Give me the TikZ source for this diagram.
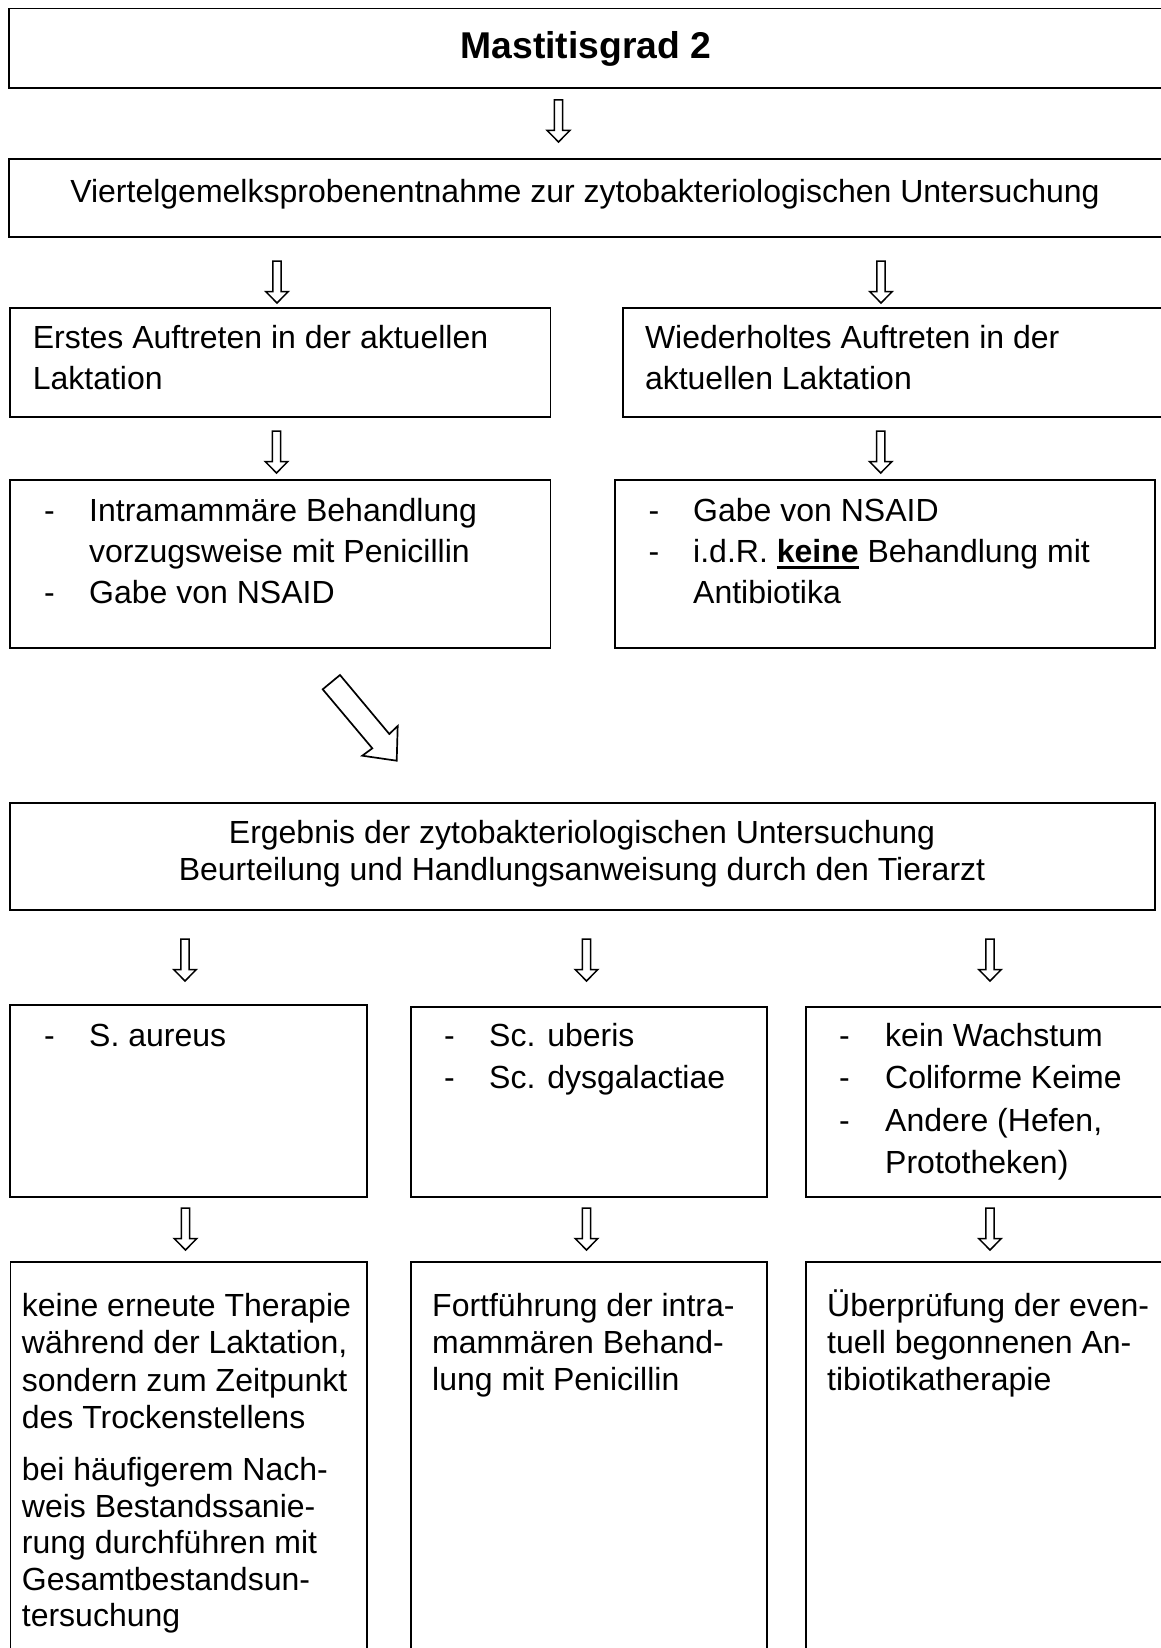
\documentclass[tikz,border=0pt]{standalone}
\usepackage{fontspec}
\setmainfont{Liberation Sans}
\newcommand\bodyfont{\fontsize{32}{37}\selectfont}
\newcommand\titlefont{\fontsize{37.3}{42}\selectfont\bfseries}
\newcommand\ulbold[1]{\setbox0\hbox{\bfseries #1}\rlap{\rule[-6.5pt]{\wd0}{3pt}}\box0\relax}
\tikzset{
  box/.style={draw, line width=1.8pt, inner sep=0pt, outer sep=0pt, anchor=north west},
  txt/.style={anchor=base west, inner sep=0pt, font=\bodyfont},
  ctxt/.style={anchor=base, inner sep=0pt, font=\bodyfont},
  downarrow/.pic={\draw[line width=1.5pt, line join=miter, fill=white]
     (-4.2,0) -- (-4.2,30.5) -- (-11.3,30.5) -- (0,42) -- (11.3,30.5) -- (4.2,30.5) -- (4.2,0) -- cycle;},
  blockarrow/.style={draw, line width=1.7pt, line join=miter, fill=white}
}
\begin{document}
\begin{tikzpicture}[x=1pt,y=-1pt]
\useasboundingbox (0,0) rectangle (1161,1648);
\clip (0,0) rectangle (1161,1648);

% boxes
\node[box, minimum width=1156pt, minimum height=79.5pt] (b1) at (9,8.5) {};
\node[box, minimum width=1156pt, minimum height=78pt] (b2) at (9,159) {};
\node[box, minimum width=540.2pt, minimum height=109pt] (b3l) at (10.3,308) {};
\node[box, minimum width=542pt, minimum height=109pt] (b3r) at (623.3,308) {};
\node[box, minimum width=540.2pt, minimum height=168pt] (b4l) at (10.3,480) {};
\node[box, minimum width=540pt, minimum height=168pt] (b4r) at (615,480) {};
\node[box, minimum width=1145.4pt, minimum height=107pt] (b5) at (9.6,803) {};
\node[box, minimum width=357.1pt, minimum height=192pt] (b6l) at (9.6,1005) {};
\node[box, minimum width=356pt, minimum height=190pt] (b6m) at (411,1007) {};
\node[box, minimum width=359pt, minimum height=190pt] (b6r) at (806,1007) {};
\node[box, minimum width=356.2pt, minimum height=420pt] (b7l) at (10.5,1261.7) {};
\node[box, minimum width=356pt, minimum height=420pt] (b7m) at (411,1261.7) {};
\node[box, minimum width=359pt, minimum height=420pt] (b7r) at (806,1261.7) {};

% arrows
\pic at (558.5,100) {downarrow};
\pic at (277,261) {downarrow};
\pic at (881,261) {downarrow};
\pic at (276.5,431) {downarrow};
\pic at (880.7,431) {downarrow};
\pic at (185,939) {downarrow};
\pic at (586.5,939) {downarrow};
\pic at (990,939) {downarrow};
\pic at (185.5,1208) {downarrow};
\pic at (586.5,1208) {downarrow};
\pic at (990,1208) {downarrow};

% diagonal block arrow
\draw[blockarrow] (322.7,689.3) -- (372.3,748.3) -- (362.3,755.7) -- (396.7,760.7)
   -- (397.7,726) -- (389.3,734) -- (340,675) -- cycle;

% texts
\node[ctxt, font=\titlefont] (t1) at (586,59) {Mastitisgrad 2};
\node[ctxt] (t2) at (585,203) {Viertelgemelksprobenentnahme zur zytobakteriologischen Untersuchung};

\node[txt] (t3la) at (32.6,348) {Erstes Auftreten in der aktuellen};
\node[txt] (t3lb) at (32.6,389) {Laktation};
\node[txt] (t3ra) at (644.8,348) {Wiederholtes Auftreten in der};
\node[txt] (t3rb) at (644.8,389) {aktuellen Laktation};

\node[txt] (d4la) at (44,521) {-};
\node[txt] (t4la) at (89,521) {Intramammäre Behandlung};
\node[txt] (t4lb) at (89,562) {vorzugsweise mit Penicillin};
\node[txt] (d4lc) at (44,603) {-};
\node[txt] (t4lc) at (89,603) {Gabe von NSAID};

\node[txt] (d4ra) at (648.5,521) {-};
\node[txt] (t4ra) at (693,521) {Gabe von NSAID};
\node[txt] (d4rb) at (648.5,562) {-};
\node[txt] (t4rb) at (693,562) {i.d.R. \ulbold{keine} Behandlung mit};
\node[txt] (t4rc) at (693,603) {Antibiotika};

\node[ctxt] (t5a) at (582,843) {Ergebnis der zytobakteriologischen Untersuchung};
\node[ctxt] (t5b) at (582,880) {Beurteilung und Handlungsanweisung durch den Tierarzt};

\node[txt] (d6la) at (44,1046) {-};
\node[txt] (t6la) at (89,1046) {S. aureus};

\node[txt] (d6ma) at (444,1046) {-};
\node[txt] (t6ma) at (489,1046) {Sc. uberis};
\node[txt] (d6mb) at (444,1088) {-};
\node[txt] (t6mb) at (489,1088) {Sc. dysgalactiae};

\node[txt] (d6ra) at (839,1046) {-};
\node[txt] (t6ra) at (885,1046) {kein Wachstum};
\node[txt] (d6rb) at (839,1088) {-};
\node[txt] (t6rb) at (885,1088) {Coliforme Keime};
\node[txt] (d6rc) at (839,1131) {-};
\node[txt] (t6rc) at (885,1131) {Andere (Hefen,};
\node[txt] (t6rd) at (885,1173) {Prototheken)};

\node[txt] (t7l1) at (21.7,1316) {keine erneute Therapie};
\node[txt] (t7l2) at (21.7,1353.5) {während der Laktation,};
\node[txt] (t7l3) at (21.7,1391) {sondern zum Zeitpunkt};
\node[txt] (t7l4) at (21.7,1428) {des Trockenstellens};
\node[txt] (t7l5) at (21.7,1480) {bei häufigerem Nach-};
\node[txt] (t7l6) at (21.7,1517) {weis Bestandssanie-};
\node[txt] (t7l7) at (21.7,1553.5) {rung durchführen mit};
\node[txt] (t7l8) at (21.7,1590) {Gesamtbestandsun-};
\node[txt] (t7l9) at (21.7,1626) {tersuchung};

\node[txt] (t7m1) at (432,1316) {Fortführung der intra-};
\node[txt] (t7m2) at (432,1353) {mammären Behand-};
\node[txt] (t7m3) at (432,1390) {lung mit Penicillin};

\node[txt] (t7r1) at (827,1316) {Überprüfung der even-};
\node[txt] (t7r2) at (827,1353) {tuell begonnenen An-};
\node[txt] (t7r3) at (827,1390) {tibiotikatherapie};
\end{tikzpicture}
\end{document}
